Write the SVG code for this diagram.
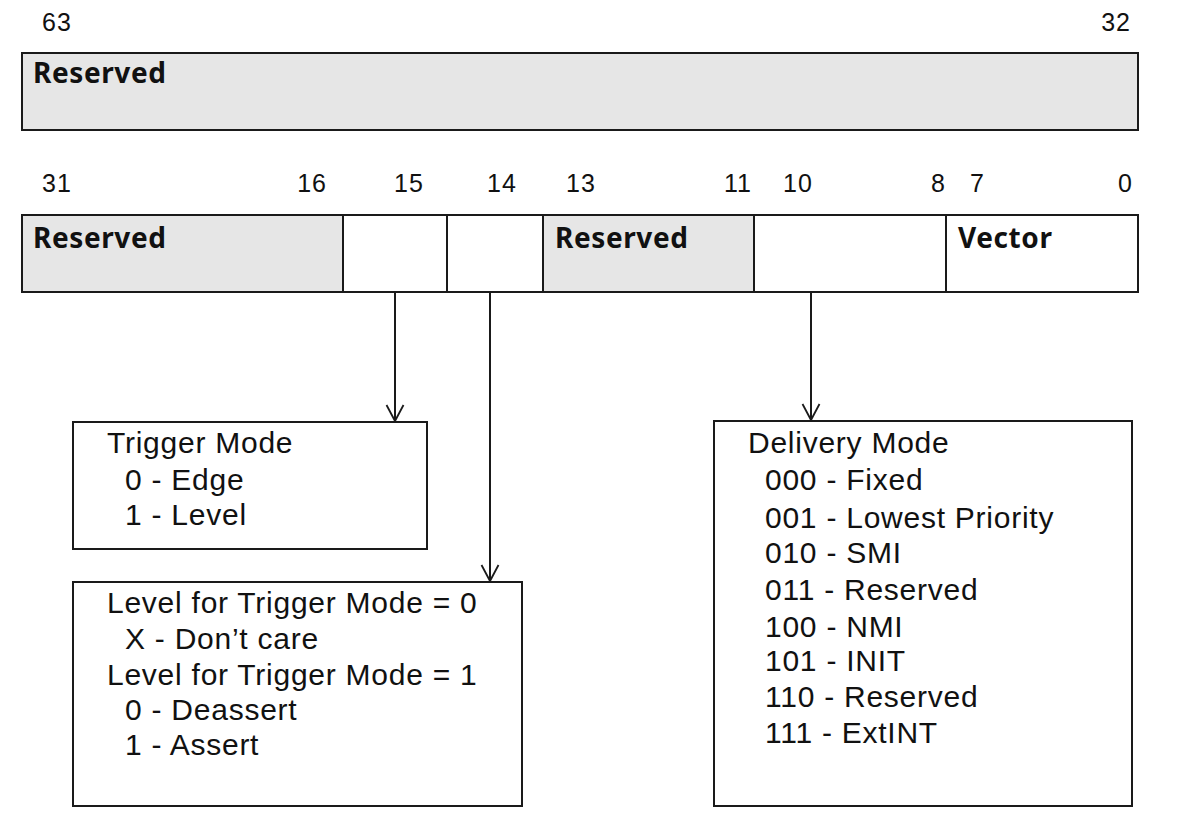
<svg xmlns="http://www.w3.org/2000/svg" width="1180" height="832" viewBox="0 0 1180 832">
<style>
.cell{stroke:#1a1a1a;stroke-width:2}
.g{fill:#e6e6e6}
.w{fill:#ffffff}
.box{fill:#ffffff;stroke:#1a1a1a;stroke-width:2}
.num{font-family:"Liberation Sans",Arial,sans-serif;font-size:25px;letter-spacing:1px;fill:#111}
.fld{font-family:"Noto Sans","Open Sans",sans-serif;font-weight:700;font-size:28px;letter-spacing:0.6px;fill:#111}
.txt{font-family:"Liberation Sans",Arial,sans-serif;font-size:30px;letter-spacing:0.75px;fill:#111}
.conn{stroke:#1a1a1a;stroke-width:2;fill:none}
</style>
<defs>
<marker id="arr" markerUnits="userSpaceOnUse" markerWidth="20" markerHeight="22" viewBox="-17 -11 20 22" refX="0" refY="0" orient="auto" overflow="visible">
<path d="M-16,-8.5 L0,0 L-16,8.5" fill="none" stroke="#1a1a1a" stroke-width="1.8"/>
</marker>
</defs>
<rect width="1180" height="832" fill="#ffffff"/>
<g id="bit-labels">
<text class="num" x="42" y="31">63</text>
<text class="num" x="1131" y="31" text-anchor="end">32</text>
<text class="num" x="42" y="192">31</text>
<text class="num" x="327" y="192" text-anchor="end">16</text>
<text class="num" x="394" y="192">15</text>
<text class="num" x="487" y="192">14</text>
<text class="num" x="566" y="192">13</text>
<text class="num" x="752" y="192" text-anchor="end">11</text>
<text class="num" x="783" y="192">10</text>
<text class="num" x="946" y="192" text-anchor="end">8</text>
<text class="num" x="970" y="192">7</text>
<text class="num" x="1133" y="192" text-anchor="end">0</text>
</g>
<g id="reserved-63-32">
<rect class="cell g" x="22" y="53" width="1116" height="77"/>
<text class="fld" x="33" y="83">Reserved</text>
</g>
<g id="reserved-31-16">
<rect class="cell g" x="22" y="215" width="321" height="77"/>
<text class="fld" x="33" y="248">Reserved</text>
</g>
<g id="bit-15">
<rect class="cell w" x="343" y="215" width="104" height="77"/>
</g>
<g id="bit-14">
<rect class="cell w" x="447" y="215" width="96" height="77"/>
</g>
<g id="reserved-13-11">
<rect class="cell g" x="543" y="215" width="211" height="77"/>
<text class="fld" x="555" y="248">Reserved</text>
</g>
<g id="bits-10-8">
<rect class="cell w" x="754" y="215" width="192" height="77"/>
</g>
<g id="vector">
<rect class="cell w" x="946" y="215" width="192" height="77"/>
<text class="fld" x="958" y="248">Vector</text>
</g>
<g id="trigger-mode">
<rect class="box" x="73" y="422" width="354" height="127"/>
<text class="txt" x="107" y="453">Trigger Mode</text>
<text class="txt" x="125" y="490">0 - Edge</text>
<text class="txt" x="125" y="525">1 - Level</text>
</g>
<g id="level">
<rect class="box" x="73" y="582" width="449" height="224"/>
<text class="txt" x="107" y="613">Level for Trigger Mode = 0</text>
<text class="txt" x="125" y="649">X - Don’t care</text>
<text class="txt" x="107" y="685">Level for Trigger Mode = 1</text>
<text class="txt" x="125" y="720">0 - Deassert</text>
<text class="txt" x="125" y="755">1 - Assert</text>
</g>
<g id="delivery-mode">
<rect class="box" x="714" y="421" width="418" height="385"/>
<text class="txt" x="748" y="453">Delivery Mode</text>
<text class="txt" x="765" y="490">000 - Fixed</text>
<text class="txt" x="765" y="528">001 - Lowest Priority</text>
<text class="txt" x="765" y="563">010 - SMI</text>
<text class="txt" x="765" y="600">011 - Reserved</text>
<text class="txt" x="765" y="637">100 - NMI</text>
<text class="txt" x="765" y="671">101 - INIT</text>
<text class="txt" x="765" y="707">110 - Reserved</text>
<text class="txt" x="765" y="743">111 - ExtINT</text>
</g>
<g id="connectors">
<line class="conn" x1="395" y1="292" x2="395" y2="421" marker-end="url(#arr)"/>
<line class="conn" x1="490" y1="292" x2="490" y2="581" marker-end="url(#arr)"/>
<line class="conn" x1="811" y1="292" x2="811" y2="420" marker-end="url(#arr)"/>
</g>
</svg>
